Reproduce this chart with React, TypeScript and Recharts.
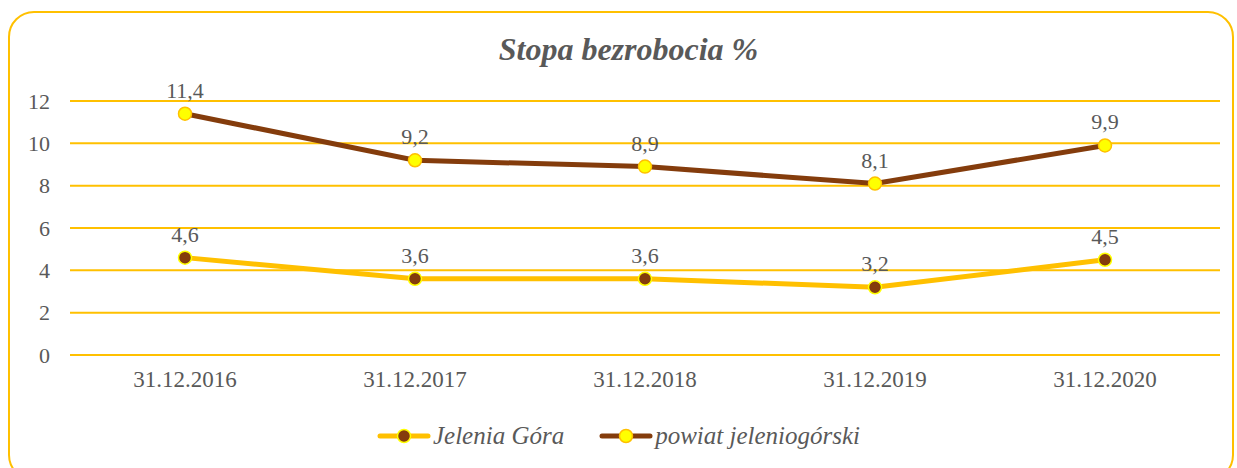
import React from "react";
import {
  LineChart,
  Line,
  XAxis,
  YAxis,
  CartesianGrid,
  Legend,
  LabelList,
} from "recharts";

const categories = ["31.12.2016", "31.12.2017", "31.12.2018", "31.12.2019", "31.12.2020"];
const jeleniaGora = [4.6, 3.6, 3.6, 3.2, 4.5];
const powiat = [11.4, 9.2, 8.9, 8.1, 9.9];
const yTicks = [0, 2, 4, 6, 8, 10, 12];

const gold = "#FFC000";
const brown = "#843C0C";
const yellow = "#FFFF00";
const textGray = "#595959";
const font = "'Liberation Serif', 'DejaVu Serif', 'Times New Roman', serif";

const chartData = categories.map((c, i) => ({
  date: c,
  jg: jeleniaGora[i],
  pj: powiat[i],
}));

const fmt = (v: any) => String(v).replace(".", ",");

function LegendIcon({ line, dotFill, dotStroke }: { line: string; dotFill: string; dotStroke: string }) {
  return (
    <svg width={54} height={20} style={{ display: "block" }}>
      <line x1={3} y1={10} x2={51} y2={10} stroke={line} strokeWidth={5} strokeLinecap="round" />
      <circle cx={27} cy={10} r={6.5} fill={dotFill} stroke={dotStroke} strokeWidth={1.5} />
    </svg>
  );
}

function renderLegend() {
  const items = [
    { name: "Jelenia Góra", line: gold, dotFill: brown, dotStroke: yellow },
    { name: "powiat jeleniogórski", line: brown, dotFill: yellow, dotStroke: gold },
  ];
  return (
    <div style={{ display: "flex", justifyContent: "center", alignItems: "center", gap: 35 }}>
      {items.map((it) => (
        <div key={it.name} style={{ display: "flex", alignItems: "center", gap: 2 }}>
          <LegendIcon line={it.line} dotFill={it.dotFill} dotStroke={it.dotStroke} />
          <span style={{ fontFamily: font, fontStyle: "italic", fontSize: 25, color: textGray }}>
            {it.name}
          </span>
        </div>
      ))}
    </div>
  );
}

export default function App() {
  return (
    <div style={{ position: "absolute", left: 0, top: 0, width: 1237, height: 468, background: "#fff" }}>
      <div
        style={{
          position: "absolute",
          left: 8,
          top: 11,
          width: 1226,
          height: 470,
          border: `2px solid ${gold}`,
          borderRadius: 26,
          boxSizing: "border-box",
        }}
      />
      <div
        style={{
          position: "absolute",
          left: 0,
          top: 31,
          width: 1257,
          textAlign: "center",
          fontFamily: font,
          fontStyle: "italic",
          fontWeight: "bold",
          fontSize: 32,
          color: textGray,
        }}
      >
        Stopa bezrobocia %
      </div>
      <LineChart
        width={1237}
        height={468}
        data={chartData}
        margin={{ top: 101, right: 17, bottom: 55, left: 0 }}
        style={{ position: "absolute", left: 0, top: 0 }}
      >
        <CartesianGrid vertical={false} stroke={gold} strokeWidth={2} />
        <XAxis
          dataKey="date"
          padding={{ left: 115, right: 115 }}
          axisLine={false}
          tickLine={false}
          tickSize={0}
          tickMargin={16}
          tick={{ fill: textGray, fontSize: 23, fontFamily: font }}
        />
        <YAxis
          width={70}
          domain={[0, 12]}
          ticks={yTicks}
          axisLine={false}
          tickLine={false}
          tickSize={0}
          tickMargin={20}
          tick={{ fill: textGray, fontSize: 22, fontFamily: font }}
        />
        <Line
          dataKey="jg"
          name="Jelenia Góra"
          stroke={gold}
          strokeWidth={5}
          dot={{ r: 6.5, fill: brown, stroke: yellow, strokeWidth: 1.5 }}
          activeDot={false}
          isAnimationActive={false}
        >
          <LabelList
            dataKey="jg"
            position="top"
            offset={16}
            formatter={fmt}
            style={{ fill: textGray, fontSize: 22, fontFamily: font }}
          />
        </Line>
        <Line
          dataKey="pj"
          name="powiat jeleniogórski"
          stroke={brown}
          strokeWidth={5}
          dot={{ r: 6.5, fill: yellow, stroke: gold, strokeWidth: 1.5 }}
          activeDot={false}
          isAnimationActive={false}
        >
          <LabelList
            dataKey="pj"
            position="top"
            offset={16}
            formatter={fmt}
            style={{ fill: textGray, fontSize: 22, fontFamily: font }}
          />
        </Line>
        <Legend
          content={renderLegend}
          wrapperStyle={{ top: 422, left: 0, width: 1237 }}
        />
      </LineChart>
    </div>
  );
}
